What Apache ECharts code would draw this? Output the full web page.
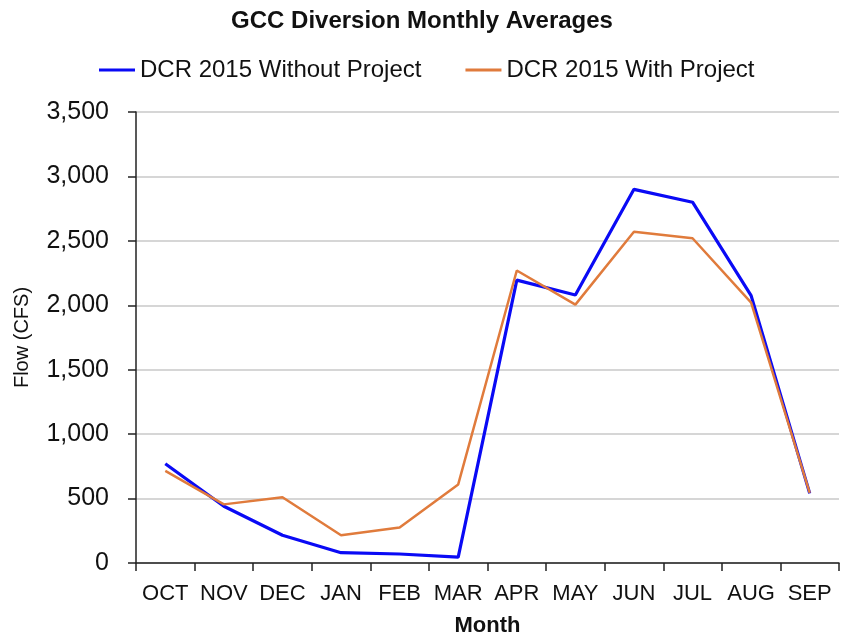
<!DOCTYPE html>
<html>
<head>
<meta charset="utf-8">
<script src="https://cdn.jsdelivr.net/npm/echarts@6/dist/echarts.min.js"></script>
<style>
  html, body { margin: 0; padding: 0; background: #fff; }
  #chart { width: 844px; height: 639px; }
</style>
</head>
<body>
<div id="chart"></div>
<script>
// months on the x axis
const months = ["OCT", "NOV", "DEC", "JAN", "FEB", "MAR", "APR", "MAY", "JUN", "JUL", "AUG", "SEP"];
// flow in CFS
const withoutProject = [770, 440, 215, 80, 70, 45, 2195, 2080, 2900, 2800, 2075, 540];
const withProject = [715, 455, 510, 215, 275, 610, 2270, 2005, 2570, 2520, 2020, 545];

const chart = echarts.init(document.getElementById("chart"));

const option = {
  animation: false,
  title: {
    text: "GCC Diversion Monthly Averages",
    left: "center",
    top: 4,
    textStyle: {
      fontFamily: "Liberation Sans",
      fontSize: 24,
      fontWeight: "bold",
      color: "#111"
    }
  },
  legend: {
    top: 53,
    left: 94,
    icon: "rect",
    itemWidth: 36,
    itemHeight: 3,
    itemGap: 44,
    textStyle: {
      fontFamily: "Liberation Sans",
      fontSize: 24,
      color: "#111"
    },
    data: ["DCR 2015 Without Project", "DCR 2015 With Project"]
  },
  grid: {
    left: 136,
    right: 5,
    top: 112,
    bottom: 76,
    outerBoundsMode: "none"
  },
  xAxis: {
    type: "category",
    data: months,
    boundaryGap: true,
    name: "Month",
    nameLocation: "middle",
    nameGap: 52,
    nameTextStyle: {
      fontFamily: "Liberation Sans",
      fontSize: 22,
      fontWeight: "bold",
      color: "#111"
    },
    axisLine: { lineStyle: { color: "#222", width: 1.5 } },
    axisTick: { show: true, inside: false, length: 8, lineStyle: { color: "#222", width: 1.5 } },
    axisLabel: {
      fontFamily: "Liberation Sans",
      fontSize: 22,
      color: "#111",
      margin: 20,
      interval: 0
    }
  },
  yAxis: {
    type: "value",
    min: 0,
    max: 3500,
    interval: 500,
    name: "Flow (CFS)",
    nameLocation: "middle",
    nameGap: 104,
    nameTextStyle: {
      fontFamily: "Liberation Sans",
      fontSize: 20,
      color: "#111"
    },
    axisLine: { show: true, lineStyle: { color: "#222", width: 1.5 } },
    axisTick: { show: true, length: 8, lineStyle: { color: "#222", width: 1.5 } },
    splitLine: { lineStyle: { color: "#c8c8c8", width: 1.5 } },
    axisLabel: {
      fontFamily: "Liberation Sans",
      fontSize: 25,
      color: "#111",
      margin: 27,
      formatter: function (v) { return v.toLocaleString("en-US"); }
    }
  },
  series: [
    {
      name: "DCR 2015 Without Project",
      type: "line",
      symbol: "none",
      data: withoutProject,
      lineStyle: { color: "#0a0af5", width: 3.2 },
      itemStyle: { color: "#0a0af5" },
      z: 3
    },
    {
      name: "DCR 2015 With Project",
      type: "line",
      symbol: "none",
      data: withProject,
      lineStyle: { color: "#e07b3c", width: 2.5 },
      itemStyle: { color: "#e07b3c" },
      z: 4
    }
  ]
};

chart.setOption(option);
</script>
</body>
</html>
